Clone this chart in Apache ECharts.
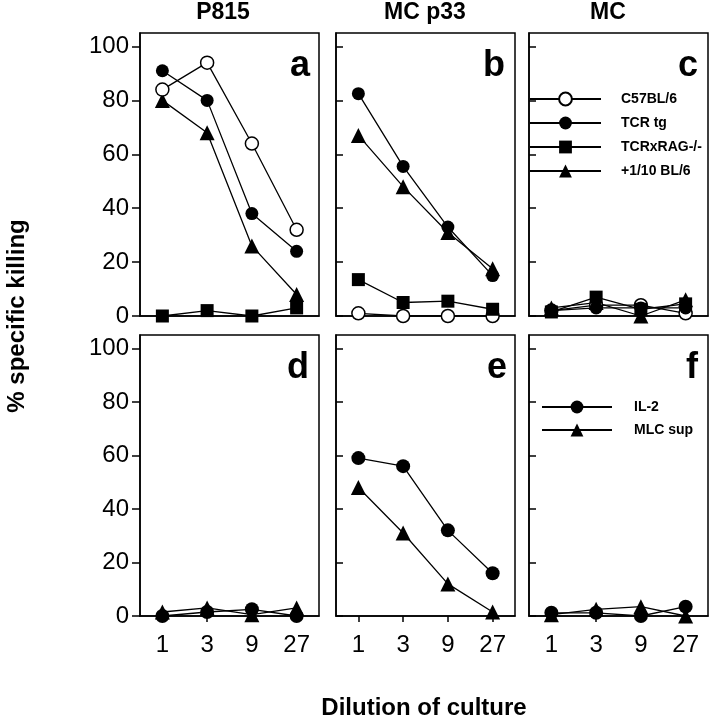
<!DOCTYPE html>
<html><head><meta charset="utf-8">
<script src="https://cdn.jsdelivr.net/npm/echarts@6/dist/echarts.min.js"></script>
<style>html,body{margin:0;padding:0;background:#fff}#c{width:714px;height:720px}</style>
</head><body><div id="c"></div>
<script>
// ---- data ----
const categories = ['1', '3', '9', '27'];
const yTicks = [0, 20, 40, 60, 80, 100];
const columnTitles = ['P815', 'MC p33', 'MC'];
const panelLetters = ['a', 'b', 'c', 'd', 'e', 'f'];
const legendTop = ['C57BL/6', 'TCR tg', 'TCRxRAG-/-', '+1/10 BL/6'];
const legendBottom = ['IL-2', 'MLC sup'];

// panel a (P815)
const a_C57 = [84, 94, 64, 32];
const a_TCR = [91, 80, 38, 24];
const a_RAG = [0, 2, 0, 3];
const a_BL6 = [80, 68, 26, 8];
// panel b (MC p33)
const b_C57 = [1, 0, 0, 0];
const b_TCR = [82.5, 55.5, 33, 15];
const b_RAG = [13.5, 5, 5.5, 2.5];
const b_BL6 = [67, 48, 31, 17.5];
// panel c (MC)
const c_C57 = [2, 4, 4, 1];
const c_TCR = [2, 3, 3, 3];
const c_RAG = [1.5, 7, 2.5, 4.5];
const c_BL6 = [3, 5, 0, 6];
// panel d (P815)
const d_IL2 = [0, 1.5, 2.5, 0];
const d_MLC = [1.5, 3, 0.5, 3];
// panel e (MC p33)
const e_IL2 = [59, 56, 32, 16];
const e_MLC = [48, 31, 12, 1.5];
// panel f (MC)
const f_IL2 = [1.2, 1.2, 0, 3.5];
const f_MLC = [0.5, 2.5, 3.5, 0];

// ---- layout / style ----
const FONT = 'Liberation Sans, Arial, Helvetica, sans-serif';
const gridPos = [
  {left: 140, top: 33, width: 179, height: 283},
  {left: 336, top: 33, width: 179, height: 283},
  {left: 529, top: 33, width: 179, height: 283},
  {left: 140, top: 335, width: 179, height: 281},
  {left: 336, top: 335, width: 179, height: 281},
  {left: 529, top: 335, width: 179, height: 281}
];
const markers = {
  'C57BL/6': {symbol: 'circle', symbolSize: 13, itemStyle: {color: '#fff', borderColor: '#000', borderWidth: 1.5}},
  'TCR tg': {symbol: 'circle', symbolSize: 13, itemStyle: {color: '#000', borderColor: '#000', borderWidth: 0}},
  'TCRxRAG-/-': {symbol: 'rect', symbolSize: 13, itemStyle: {color: '#000', borderColor: '#000', borderWidth: 0}},
  '+1/10 BL/6': {symbol: 'triangle', symbolSize: 15, itemStyle: {color: '#000', borderColor: '#000', borderWidth: 0}},
  'IL-2': {symbol: 'circle', symbolSize: 14, itemStyle: {color: '#000', borderColor: '#000', borderWidth: 0}},
  'MLC sup': {symbol: 'triangle', symbolSize: 15, itemStyle: {color: '#000', borderColor: '#000', borderWidth: 0}}
};
function mk(name, data, gi, z) {
  const m = markers[name];
  return {
    type: 'line', name: name, data: data, xAxisIndex: gi, yAxisIndex: gi,
    symbol: m.symbol, symbolSize: m.symbolSize, showSymbol: true,
    itemStyle: m.itemStyle, lineStyle: {color: '#000', width: 1.3},
    emphasis: {disabled: true}, z: z || 2, animation: false
  };
}
const series = [
  mk('TCRxRAG-/-', a_RAG, 0), mk('+1/10 BL/6', a_BL6, 0), mk('TCR tg', a_TCR, 0), mk('C57BL/6', a_C57, 0, 3),
  mk('C57BL/6', b_C57, 1), mk('TCRxRAG-/-', b_RAG, 1), mk('+1/10 BL/6', b_BL6, 1), mk('TCR tg', b_TCR, 1),
  mk('C57BL/6', c_C57, 2), mk('TCR tg', c_TCR, 2), mk('TCRxRAG-/-', c_RAG, 2), mk('+1/10 BL/6', c_BL6, 2),
  mk('IL-2', d_IL2, 3), mk('MLC sup', d_MLC, 3),
  mk('IL-2', e_IL2, 4), mk('MLC sup', e_MLC, 4),
  mk('IL-2', f_IL2, 5), mk('MLC sup', f_MLC, 5)
];

const grids = gridPos.map(g => Object.assign({show: true, borderColor: '#000', borderWidth: 1.5, containLabel: false, backgroundColor: 'transparent'}, g));
const xAxes = gridPos.map((g, i) => ({
  type: 'category', gridIndex: i, data: categories, boundaryGap: true,
  axisLine: {show: true, lineStyle: {color: '#000', width: 1.5}},
  axisTick: {show: i >= 3, alignWithLabel: true, length: 6, inside: false, lineStyle: {color: '#000', width: 1.5}},
  axisLabel: {show: i >= 3, color: '#000', fontSize: 24, fontFamily: FONT, margin: 17},
  splitLine: {show: false}
}));
const yAxes = gridPos.map((g, i) => {
  const labeled = (i === 0 || i === 3);
  return {
    type: 'value', gridIndex: i, min: 0, max: 105,
    axisLine: {show: true, lineStyle: {color: '#000', width: 1.5}},
    axisTick: {show: true, inside: !labeled, length: labeled ? 8 : 7, customValues: yTicks, lineStyle: {color: '#000', width: 1.5}},
    axisLabel: {show: labeled, customValues: yTicks, color: '#000', fontSize: 24, fontFamily: FONT, margin: 11},
    splitLine: {show: false}
  };
});

const colCenters = [223, 425, 608];
const letterPos = [[310, 66], [505, 66], [698, 66], [309, 368], [507, 368], [698, 368]];
const graphics = [];
columnTitles.forEach((t, i) => graphics.push({
  type: 'text', x: colCenters[i], y: 13, silent: true,
  style: {text: t, font: 'bold 23px ' + FONT, fill: '#000', textAlign: 'center', textVerticalAlign: 'middle'}
}));
panelLetters.forEach((t, i) => graphics.push({
  type: 'text', x: letterPos[i][0], y: letterPos[i][1], silent: true, z: 10,
  style: {text: t, font: 'bold 36px ' + FONT, fill: '#000', textAlign: 'right', textVerticalAlign: 'middle'}
}));
graphics.push({
  type: 'text', x: 17, y: 316, rotation: Math.PI / 2, silent: true,
  style: {text: '% specific killing', font: 'bold 24px ' + FONT, fill: '#000', textAlign: 'center', textVerticalAlign: 'middle'}
});
graphics.push({
  type: 'text', x: 424, y: 708, silent: true,
  style: {text: 'Dilution of culture', font: 'bold 24px ' + FONT, fill: '#000', textAlign: 'center', textVerticalAlign: 'middle'}
});

const legendText = {fontSize: 14, fontWeight: 'bold', color: '#000', fontFamily: FONT, lineHeight: 16};
const option = {
  animation: false,
  backgroundColor: '#fff',
  grid: grids,
  xAxis: xAxes,
  yAxis: yAxes,
  series: series,
  legend: [
    {data: legendTop, orient: 'vertical', left: 529, top: 91, padding: 0, itemWidth: 71, itemHeight: 16, itemGap: 8,
     selectedMode: false, textStyle: Object.assign({padding: [0, 0, 0, 15]}, legendText)},
    {data: legendBottom, orient: 'vertical', left: 541, top: 399, padding: 0, itemWidth: 70, itemHeight: 16, itemGap: 7,
     selectedMode: false, textStyle: Object.assign({padding: [0, 0, 0, 17]}, legendText)}
  ],
  graphic: graphics
};
const chart = echarts.init(document.getElementById('c'), null, {renderer: 'canvas'});
chart.setOption(option);
</script></body></html>
